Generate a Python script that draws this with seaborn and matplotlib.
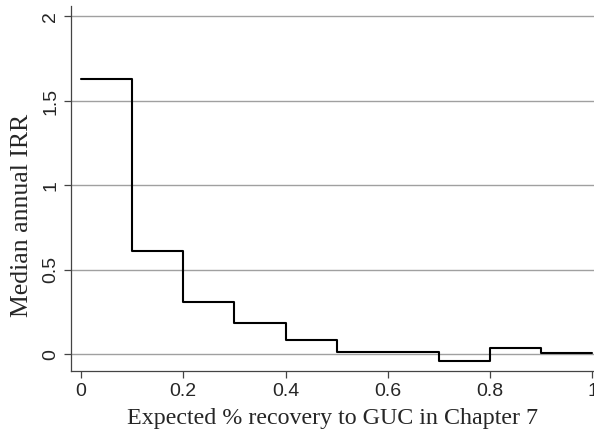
import pandas as pd
import matplotlib
matplotlib.use("Agg")
import matplotlib.pyplot as plt
import seaborn as sns

# Bin edges of expected recovery and median IRR per bin
bin_edges = [0.0, 0.1, 0.2, 0.3, 0.4, 0.5, 0.6, 0.7, 0.8, 0.9, 1.0]
median_irr = [1.63, 0.613, 0.31, 0.187, 0.085, 0.016, 0.016, -0.041, 0.039, 0.007]

x_ticks = [0, 0.2, 0.4, 0.6, 0.8, 1]
x_tick_labels = ["0", "0.2", "0.4", "0.6", "0.8", "1"]
y_ticks = [0, 0.5, 1, 1.5, 2]
y_tick_labels = ["0", "0.5", "1", "1.5", "2"]

# step data: repeat last value so the final bin is drawn to x=1
df = pd.DataFrame({
    "recovery": bin_edges,
    "irr": median_irr + [median_irr[-1]],
})

sns.set_style("ticks")
plt.rcParams["font.family"] = ["Liberation Sans", "DejaVu Sans"]

fig = plt.figure(figsize=(5.94, 4.38), dpi=100)
ax = fig.add_axes([0.1195, 0.1535, 0.8805, 0.832])

for yv in y_ticks:
    ax.axhline(yv, color="#a0a0a0", linewidth=1.0, zorder=0)

sns.lineplot(data=df, x="recovery", y="irr", drawstyle="steps-post",
             color="black", linewidth=1.5, ax=ax)

ax.set_xlim(-0.0196, 1.003)
ax.set_ylim(-0.097, 2.06)
ax.set_xticks(x_ticks)
ax.set_xticklabels(x_tick_labels, fontsize=14)
ax.set_yticks(y_ticks)
ax.set_yticklabels(y_tick_labels, fontsize=14, rotation=90, va="center")
ax.tick_params(axis="both", direction="out", length=5, width=0.9, color="#444444")

for side in ["top", "right"]:
    ax.spines[side].set_visible(False)
for side in ["left", "bottom"]:
    ax.spines[side].set_color("#444444")
    ax.spines[side].set_linewidth(0.9)

ax.set_xlabel("Expected % recovery to GUC in Chapter 7",
              family=["Liberation Serif", "DejaVu Serif"], fontsize=17.3, labelpad=6)
ax.set_ylabel("Median annual IRR",
              family=["Liberation Serif", "DejaVu Serif"], fontsize=18.5)
ax.yaxis.set_label_coords(-0.073, 0.426)

fig.savefig("out.png", dpi=100)
